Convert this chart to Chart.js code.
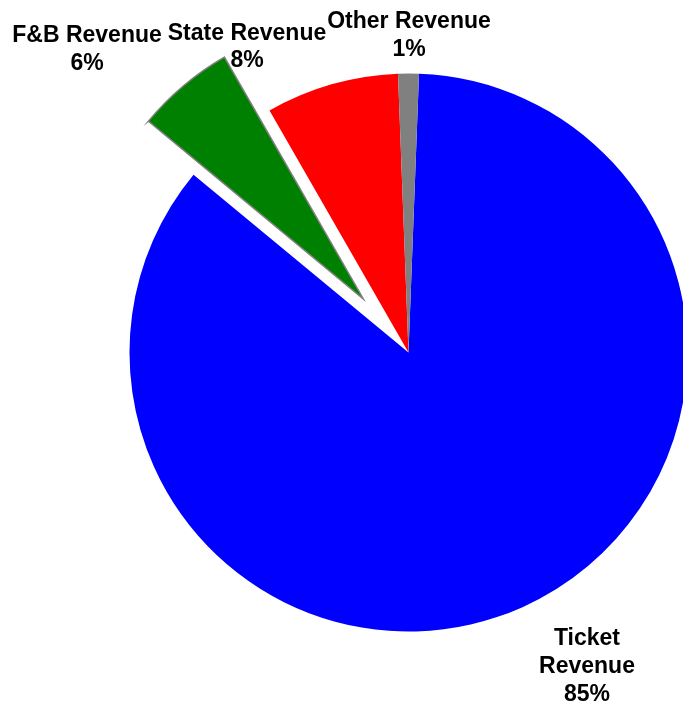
<!DOCTYPE html>
<html>
<head>
<meta charset="utf-8">
<title>Revenue mix</title>
<script src="https://cdn.jsdelivr.net/npm/chart.js@4"></script>
<style>
  html, body { margin: 0; padding: 0; background: #ffffff; }
  #wrap { position: relative; width: 683px; height: 701px; overflow: hidden; }
</style>
</head>
<body>
<div id="wrap"><canvas id="revenuePie"></canvas></div>
<script>
'use strict'

// revenue split, in percent of the total
const categories = ['Ticket Revenue', 'F&B Revenue', 'State Revenue', 'Other Revenue']
const shares = [85.4, 5.7, 7.7, 1.2]
const sliceColors = ['#0000FF', '#008000', '#FF0000', '#808080']

// the slice pulled out of the pie and how far
const pulledSlice = 'F&B Revenue'
const pullDistance = 70

// where each label block sits (centre x, first baseline) and whether it wraps per word
const labelSpots = [
  { x: 587, y: 645, wrap: true },
  { x: 87, y: 41.7, wrap: false },
  { x: 247, y: 39.5, wrap: false },
  { x: 409, y: 27.7, wrap: false }
]

;(() => {
  class ExplodedPie extends Chart.PieController {
    draw() {
      const ctx = this.chart.ctx
      const labels = this.chart.data.labels
      this._cachedMeta.data.forEach((arc, i) => {
        const pull = labels[i] === pulledSlice ? pullDistance : 0
        const mid = (arc.startAngle + arc.endAngle) / 2
        ctx.save()
        ctx.translate(Math.cos(mid) * pull, Math.sin(mid) * pull)
        arc.draw(ctx, this.chart.chartArea)
        ctx.restore()
      })
    }
  }
  ExplodedPie.id = 'explodedPie'
  Chart.register(ExplodedPie)

  const total = shares.reduce((a, b) => a + b, 0)

  const sliceLabels = {
    id: 'sliceLabels',
    afterDatasetsDraw(chart) {
      const ctx = chart.ctx
      ctx.save()
      ctx.font = 'bold 23px "Liberation Sans", Arial, sans-serif'
      ctx.fillStyle = '#000000'
      ctx.textAlign = 'center'
      ctx.textBaseline = 'alphabetic'
      chart.data.labels.forEach((name, i) => {
        const spot = labelSpots[i]
        const pct = Math.round((shares[i] / total) * 100) + '%'
        const lines = (spot.wrap ? name.split(' ') : [name]).concat(pct)
        lines.forEach((line, k) => ctx.fillText(line, spot.x, spot.y + k * 27.8))
      })
      ctx.restore()
    }
  }

  new Chart(document.getElementById('revenuePie'), {
    type: 'explodedPie',
    data: {
      labels: categories,
      datasets: [
        {
          data: shares,
          backgroundColor: sliceColors,
          borderColor: categories.map((c) => (c === pulledSlice ? '#808080' : 'rgba(0,0,0,0)')),
          borderWidth: categories.map((c) => (c === pulledSlice ? 1.5 : 0)),
          borderJoinStyle: 'miter'
        }
      ]
    },
    options: {
      responsive: true,
      maintainAspectRatio: false,
      animation: false,
      events: [],
      rotation: (shares[3] / total) * 180,
      radius: 279,
      layout: {
        padding: { left: 134, top: 4, right: 0, bottom: 0 }
      },
      plugins: {
        legend: { display: false },
        tooltip: { enabled: false }
      }
    },
    plugins: [sliceLabels]
  })
})()
</script>
</body>
</html>
